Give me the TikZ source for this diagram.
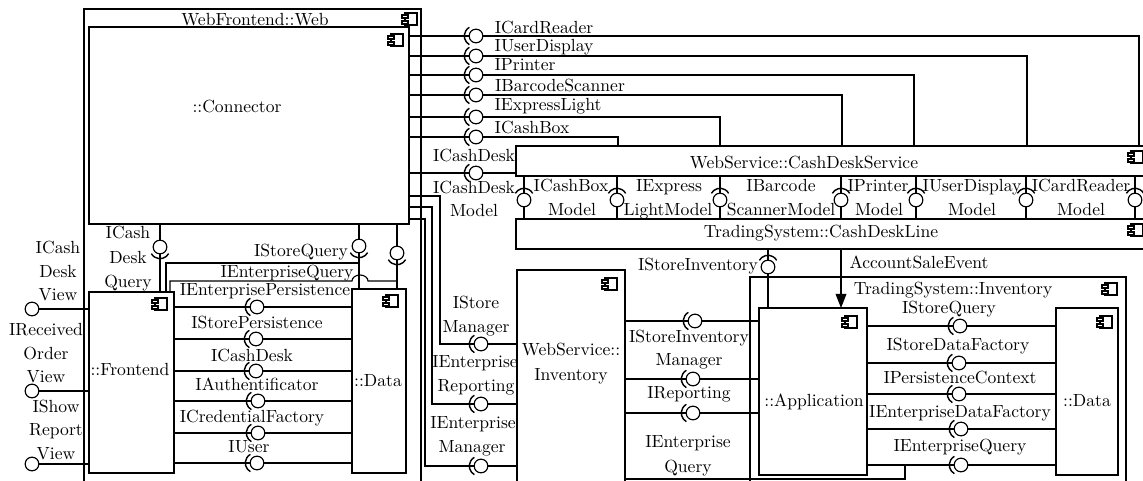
\documentclass[tikz,border=0pt]{standalone}
\usepackage{amsmath}
\usetikzlibrary{positioning, arrows.meta}

\tikzset{
  comp/.style={draw,rectangle,fill=white,inner sep=0pt,outer sep=0pt},
  ball/.style={draw,circle,fill=white,inner sep=0pt,minimum size=8.2pt},
  lab/.style={inner sep=0pt,yshift=-0.7pt,font=\fontsize{10.55}{12}\selectfont,
    text height=1.5ex,text depth=.25ex},
  compicon/.pic={
    \draw[fill=white] (-5,-6) rectangle (7,6);
    \draw[fill=white] (-8,-4) rectangle (-2,-1);
    \draw[fill=white] (-8,2) rectangle (-2,5);
  }
}

\begin{document}
\begin{tikzpicture}[x=0.6pt,y=-0.6pt,line width=0.7pt,>=Stealth]
  \useasboundingbox (0,0) rectangle (1143,481);
  \clip (0,0) rectangle (1143,481);
  % boxes: name/left/top/right/bottom
  \foreach \n/\l/\t/\r/\b in {web/84/9/421/520,connector/89/27/409/224,
      frontend/89/292/174/473,dataleft/352/289/406/473,
      service/516/146/1170/176,line/516/219/1170/249,
      webinv/517/270/625/520,inv/750/277/1126/520,
      application/759/308/867/475,dataright/1056/308/1118/475}{
    \node[comp,minimum width={(\r-\l)*0.6pt},minimum height={(\b-\t)*0.6pt}]
      (\n) at ({(\l+\r)/2},{(\t+\b)/2}){};
  }
  \foreach \x/\y in {410/19,396/40,160/304,391/301,1136/157,1136/230,
      610/284,1110/289,850/322,1105/322}{
    \pic at (\x,\y) {compicon};
  }
  % interfaces with a socket: name/x/y/side
  \foreach \n/\x/\y/\a in {cardreader/476/36/180,userdisplay/476/56/180,
      printer/476/75/180,barcode/476/95/180,expresslight/476/117/180,
      cashbox/476/137/180,cashdesk/476/173/180,
      cashdeskmodel/524/200/90,cashboxmodel/617/200/90,
      expressmodel/720/200/90,barcodemodel/841/200/90,
      printermodel/916/200/90,displaymodel/1026/200/90,
      readermodel/1135/200/90,storeinventory/768/267/90,
      cashdeskquery/160/247/270,storequery/359/246/270,
      enterquery/397/253/270,
      enterpersist/257/307/180,storepersist/256/339/180,
      webcashdesk/256/371/180,authentic/258/401/180,
      credential/258/433/180,user/257/463/180,
      storemanager/481/344/180,enterreporting/481/404/180,
      entermanager/481/466/180,
      invmanager/695/321/180,reporting/693/379/180,
      enterinvquery/693/413/180,
      tsstorequery/960/326/180,storefactory/959/363/180,
      persistctx/959/394/180,enterfactory/961/429/180,
      tsenterquery/961/465/180}{
    \node[ball] (\n) at (\x,\y){};
    \draw[line width=0.85pt] (\n.center) ++(\a:1pt) ++({\a+60}:6pt)
      arc[start angle=\a+60,end angle=\a-60,radius=6pt];
  }
  % view balls
  \node[ball] (cashview) at (32,309){};
  \node[ball] (orderview) at (32,391){};
  \node[ball] (reportview) at (32,464){};
  \foreach \n in {cashview,orderview,reportview}{
    \draw (\n) -- (frontend.west |- \n);
  }
  % connector to frontside balls and on to the service
  \foreach \n/\x in {cardreader/1139,userdisplay/1027,printer/914,
      barcode/842,expresslight/720,cashbox/618}{
    \coordinate (\n end) at (\x,146);
    \draw (connector.east |- \n) -- (\n) -| (\n end);
  }
  \draw (connector.east |- cashdesk) -- (cashdesk) -- (service.west |- cashdesk);
  \foreach \n in {cashdeskmodel,cashboxmodel,expressmodel,barcodemodel,
      printermodel,displaymodel,readermodel}{
    \draw (service.south -| \n) -- (\n) -- (line.north -| \n);
  }
  \draw (line.south -| storeinventory) -- (storeinventory)
    -- (application.north -| storeinventory);
  \coordinate (salestart) at (841,249);
  \coordinate (saleend) at (841,308);
  \draw[-{Stealth[length=8.5pt,width=6.5pt,inset=0pt]}] (salestart) -- (saleend);
  % web frontend inner lines
  \draw (connector.south -| cashdeskquery) -- (cashdeskquery)
    -- (frontend.north -| cashdeskquery);
  \draw (connector.south -| storequery) -- (storequery)
    -- (dataleft.north -| storequery);
  \draw (connector.south -| enterquery) -- (enterquery)
    -- (dataleft.north -| enterquery);
  \coordinate (storeturn) at (359,263);
  \coordinate (storedown) at (166,292);
  \draw (storeturn) -| (storedown);
  \coordinate (enterturn) at (397,281);
  \coordinate (jumpright) at (368,281);
  \coordinate (enterdown) at (170,292);
  \draw (enterturn) -- (jumpright)
    arc[start angle=0,end angle=180,x radius=4.8pt,y radius=3.6pt]
    -| (enterdown);
  \foreach \n in {enterpersist,storepersist,webcashdesk,authentic,
      credential,user}{
    \draw (frontend.east |- \n) -- (\n) -- (dataleft.west |- \n);
  }
  % connector down to the web service
  \coordinate (mgrone) at (409,196);
  \coordinate (mgrtwo) at (409,207);
  \coordinate (mgrthree) at (409,219);
  \draw (mgrone) -| (440,344) -- (storemanager) -- (webinv.west |- storemanager);
  \draw (mgrtwo) -| (432,404) -- (enterreporting) -- (webinv.west |- enterreporting);
  \draw (mgrthree) -| (425,466) -- (entermanager) -- (webinv.west |- entermanager);
  % web service to application
  \foreach \n in {invmanager,reporting,enterinvquery}{
    \draw (webinv.east |- \n) -- (\n) -- (application.west |- \n);
  }
  \foreach \n in {tsstorequery,storefactory,persistctx,enterfactory,tsenterquery}{
    \draw (application.east |- \n) -- (\n) -- (dataright.west |- \n);
  }
  \coordinate (queryturn) at (905,465);
  \coordinate (queryend) at (625,479);
  \draw (queryturn) |- (queryend);
  % labels: x/y/text
  \foreach \x/\y/\t [count=\i] in {255/20/WebFrontend::Web,237/107/::Connector,
      130/370/::Frontend,378/381/::Data,804/163/WebService::CashDeskService,
      821/232/TradingSystem::CashDeskLine,571/350/WebService::,571/375/Inventory,
      953/289/TradingSystem::Inventory,814/401/::Application,1087/401/::Data,
      58/248/ICash,58/272/Desk,58/295/View,46/330/IReceived,46/354/Order,
      46/377/View,56/407/IShow,56/430/Report,56/454/View,
      128/233/ICash,128/258/Desk,128/282/Query,
      301/251/IStoreQuery,287/272/IEnterpriseQuery,
      265/290/IEnterprisePersistence,257/323/IStorePersistence,
      252/356/ICashDesk,257/385/IAuthentificator,
      252/417/ICredentialFactory,249/447/IUser,
      544/28/ICardReader,544/46/IUserDisplay,525/65/IPrinter,
      560/86/IBarcodeScanner,548/105/IExpressLight,532/128/ICashBox,
      474/156/ICashDesk,474/188/ICashDesk,474/211/Model,
      571/186/ICashBox,572/210/Model,669/186/IExpress,668/210/LightModel,
      781/186/IBarcode,781/210/ScannerModel,878/186/IPrinter,879/210/Model,
      972/186/IUserDisplay,972/210/Model,1081/186/ICardReader,1081/210/Model,
      698/265/IStoreInventory,919/263/AccountSaleEvent,
      476/303/IStore,476/327/Manager,475/362/IEnterprise,476/386/Reporting,
      473/423/IEnterprise,472/447/Manager,
      689/337/IStoreInventory,689/360/Manager,689/393/IReporting,
      688/442/IEnterprise,688/467/Query,
      949/308/IStoreQuery,958/345/IStoreDataFactory,
      960/378/IPersistenceContext,960/412/IEnterpriseDataFactory,
      960/446/IEnterpriseQuery}{
    \node[lab] (lab\i) at (\x,\y){\t};
  }
\end{tikzpicture}
\end{document}
